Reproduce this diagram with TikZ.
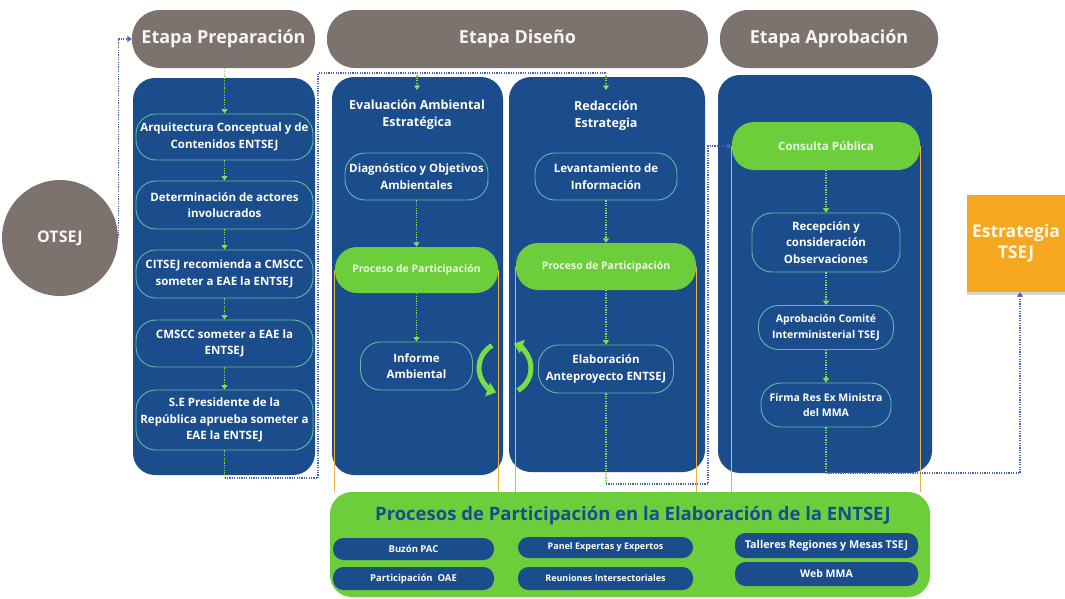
\documentclass[tikz,border=0pt]{standalone}
\usepackage{fontspec}
\setmainfont{Open Sans}
\usetikzlibrary{arrows.meta,calc,shadows}
\definecolor{pblue}{RGB}{27,77,140}
\definecolor{sgray}{RGB}{125,115,110}
\definecolor{pgreen}{RGB}{108,206,58}
\definecolor{igreen}{RGB}{120,222,70}
\definecolor{porange}{RGB}{245,168,31}
\definecolor{pout}{RGB}{95,185,165}
\definecolor{cblue}{RGB}{70,100,180}
\definecolor{cgreen}{RGB}{130,220,90}
\definecolor{oline}{RGB}{240,176,64}
\begin{document}
\begin{tikzpicture}[x=1pt,y=-1pt,
  stage/.style={fill=sgray, rounded corners=28pt, minimum height=58pt, text=white!92!gray, font=\bfseries\fontsize{18}{20}\selectfont, inner sep=0pt},
  panel/.style={fill=pblue, rounded corners=22pt, inner sep=0pt},
  item/.style={draw=pout, line width=0.9pt, rounded corners=20pt, text=white, align=center, font=\bfseries\fontsize{11.5}{16.5}\selectfont, inner sep=0pt},
  gpill/.style={fill=pgreen, rounded corners=22pt, text=white!85!pgreen, align=center, font=\bfseries\fontsize{10.5}{12}\selectfont, inner sep=0pt},
  ptitle/.style={text=white, align=center, font=\bfseries\fontsize{12.5}{17}\selectfont, inner sep=0pt},
  spill/.style={fill=pblue, rounded corners=10.5pt, text=white, font=\bfseries\fontsize{9.5}{11}\selectfont, inner sep=0pt},
  gdot/.style={draw=cgreen, line width=1.3pt, dash pattern=on 1.2pt off 1.2pt},
  bdot/.style={draw=cblue, line width=1.3pt, dash pattern=on 1.2pt off 1.2pt},
  gtip/.style={-{Triangle[length=4.5pt,width=6pt]}},
  orl/.style={draw=oline, line width=0.8pt},
  ricon/.style={draw=igreen, line width=5pt, -{Triangle[length=9pt,width=14pt]}}
]
\useasboundingbox (0,0) rectangle (1065,598);

% stage headers
\node[stage, minimum width=183pt] (h1) at (223.5,39) {Etapa Preparación};
\node[stage, minimum width=381pt] (h2) at (517.5,39) {Etapa Diseño};
\node[stage, minimum width=218pt] (h3) at (829,39) {Etapa Aprobación};

% OTSEJ
\node[circle, fill=sgray, minimum size=116pt, inner sep=0pt, text=white!92!gray, font=\bfseries\fontsize{16}{18}\selectfont] (ot) at (60,238) {OTSEJ};

% panels
\node[panel, minimum width=182pt, minimum height=397pt] (p1) at (224,276.5) {};
\node[panel, minimum width=171pt, minimum height=398pt] (p2) at (417.5,276) {};
\node[panel, minimum width=196pt, minimum height=395pt] (p3) at (607,274.5) {};
\node[panel, minimum width=214pt, minimum height=398pt] (p4) at (825,274) {};

% green bottom box
\node[fill=pgreen, rounded corners=22pt, minimum width=600pt, minimum height=105pt, inner sep=0pt] (gb) at (630,544.5) {};
\node[text=pblue, font=\bfseries\fontsize{18.5}{20}\selectfont, inner sep=0pt] (gt) at (633,516) {Procesos de Participación en la Elaboración de la ENTSEJ};
\node[spill, minimum width=161pt, minimum height=22pt] (bz) at (413.5,549) {Buzón PAC};
\node[spill, minimum width=161pt, minimum height=23pt] (oae) at (413.5,578.5) {Participación\ \ OAE};
\node[spill, minimum width=175pt, minimum height=21pt, font=\bfseries\fontsize{9}{11}\selectfont] (pe) at (605.5,547.5) {Panel Expertas y Expertos};
\node[spill, minimum width=175pt, minimum height=23pt, font=\bfseries\fontsize{9}{11}\selectfont] (ri) at (605.5,578.5) {Reuniones Intersectoriales};
\node[spill, minimum width=183pt, minimum height=25pt, font=\bfseries\fontsize{10.8}{12}\selectfont] (tr) at (826.5,545.5) {Talleres Regiones y Mesas TSEJ};
\node[spill, minimum width=183pt, minimum height=24pt, font=\bfseries\fontsize{10.5}{12}\selectfont] (wm) at (826.5,574) {Web MMA};

% Estrategia TSEJ
\node[fill=porange, minimum width=98pt, minimum height=97pt, inner sep=0pt, align=center, text=white!90!porange, font=\bfseries\fontsize{17.5}{21}\selectfont, drop shadow={opacity=0.35, shadow xshift=0pt, shadow yshift=-3pt}] (est) at (1016,243.5) {Estrategia\\TSEJ};

% panel 1 items
\node[item, minimum width=177pt, minimum height=46pt] (a1) at (224.5,137) {Arquitectura Conceptual y de\\Contenidos ENTSEJ};
\node[item, minimum width=177pt, minimum height=48pt] (a2) at (224.5,205) {Determinación de actores\\involucrados};
\node[item, minimum width=177pt, minimum height=48pt] (a3) at (224.5,274) {CITSEJ recomienda a CMSCC\\someter a EAE la ENTSEJ};
\node[item, minimum width=177pt, minimum height=47pt] (a4) at (224.5,343.5) {CMSCC someter a EAE la\\ENTSEJ};
\node[item, minimum width=177pt, minimum height=60pt] (a5) at (224.5,420) {S.E Presidente de la\\República aprueba someter a\\EAE la ENTSEJ};

% panel 2
\node[ptitle] (t2) at (417,115) {Evaluación Ambiental\\Estratégica};
\node[item, minimum width=143pt, minimum height=47pt] (d1) at (416.5,176.5) {Diagnóstico y Objetivos\\Ambientales};
\node[gpill, minimum width=163pt, minimum height=46pt] (pp1) at (416.5,270) {Proceso de Participación};
\node[item, minimum width=112pt, minimum height=48pt] (ia) at (416.5,366) {Informe\\Ambiental};

% panel 3
\node[ptitle] (t3) at (606,116) {Redacción\\Estrategia};
\node[item, minimum width=142pt, minimum height=47pt] (l1) at (606,176.5) {Levantamiento de\\Información};
\node[gpill, minimum width=180pt, minimum height=47pt] (pp2) at (606,266.5) {Proceso de Participación};
\node[item, minimum width=135pt, minimum height=48pt] (el) at (606,369) {Elaboración\\Anteproyecto ENTSEJ};

% panel 4
\node[gpill, minimum width=188pt, minimum height=48pt, font=\bfseries\fontsize{11.5}{13}\selectfont] (cp) at (826,146) {Consulta Pública};
\node[item, minimum width=148pt, minimum height=59pt] (r1) at (826,242.5) {Recepción y\\consideración\\Observaciones};
\node[item, minimum width=135pt, minimum height=44pt, font=\bfseries\fontsize{10.5}{15.5}\selectfont] (ap) at (826,327.5) {Aprobación Comité\\Interministerial TSEJ};
\node[item, minimum width=130pt, minimum height=44pt, font=\bfseries\fontsize{10.5}{15.5}\selectfont] (fr) at (826,405) {Firma Res Ex Ministra\\del MMA};

% orange participation lines
\draw[orl] (pp1.west) -- (pp1.west |- gb.north);
\draw[orl] (pp1.east) -- (pp1.east |- gb.north);
\draw[orl] (pp2.west) -- (pp2.west |- gb.north);
\draw[orl] (pp2.east) -- (pp2.east |- gb.north);
\draw[orl] (cp.west) -- (cp.west |- gb.north);
\draw[orl] (cp.east) -- (cp.east |- gb.north);

% coordinates for connectors
\coordinate (c1) at (224.5,478);
\coordinate (c2) at (318,478);
\coordinate (c3) at (318,73);
\coordinate (c4) at (606,73);
\coordinate (e2) at (417,73);
\coordinate (e2b) at (417,90);
\coordinate (e3b) at (606,90);
\coordinate (c5) at (606,484);
\coordinate (c6) at (708,484);
\coordinate (c8) at (826,473);
\coordinate (c9) at (1020,473);

% OTSEJ -> Etapa Preparación
\draw[bdot, -{Triangle[length=4.5pt,width=6pt]}] (ot.east) |- (h1.west);

% panel 1 chain
\draw[gdot, gtip] (a1.north |- h1.south) -- (a1.north);
\draw[gdot, gtip] (a1.south) -- (a2.north);
\draw[gdot, gtip] (a2.south) -- (a3.north);
\draw[gdot, gtip] (a3.south) -- (a4.north);
\draw[gdot, gtip] (a4.south) -- (a5.north);
\draw[gdot] (a5.south) -- (c1);
\draw[bdot] (c1) -- (c2) -- (c3) -- (c4);
\draw[gdot, gtip] (e2) -- (e2b);
\draw[gdot, gtip] (c4) -- (e3b);

% panel 2 chain
\draw[gdot, gtip] (d1.south) -- (pp1.north);
\draw[gdot, gtip] (pp1.south) -- (ia.north);

% panel 3 chain
\draw[gdot, gtip] (l1.south) -- (pp2.north);
\draw[gdot, gtip] (pp2.south) -- (el.north);
\draw[gdot] (el.south) -- (c5);
\draw[bdot, gtip] (c5) -- (c6) |- (cp.west);

% panel 4 chain
\draw[gdot, gtip] (cp.south) -- (r1.north);
\draw[gdot, gtip] (r1.south) -- (ap.north);
\draw[gdot, gtip] (ap.south) -- (fr.north);
\draw[gdot] (fr.south) -- (c8);
\draw[bdot, gtip] (c8) -- (c9) -- (c9 |- est.south);

% refresh icon between panels 2 and 3
\draw[ricon] (492,345.5) arc[start angle=-120, end angle=-250, radius=26];
\draw[ricon] (518,390.5) arc[start angle=60, end angle=-70, radius=26];
\end{tikzpicture}
\end{document}
